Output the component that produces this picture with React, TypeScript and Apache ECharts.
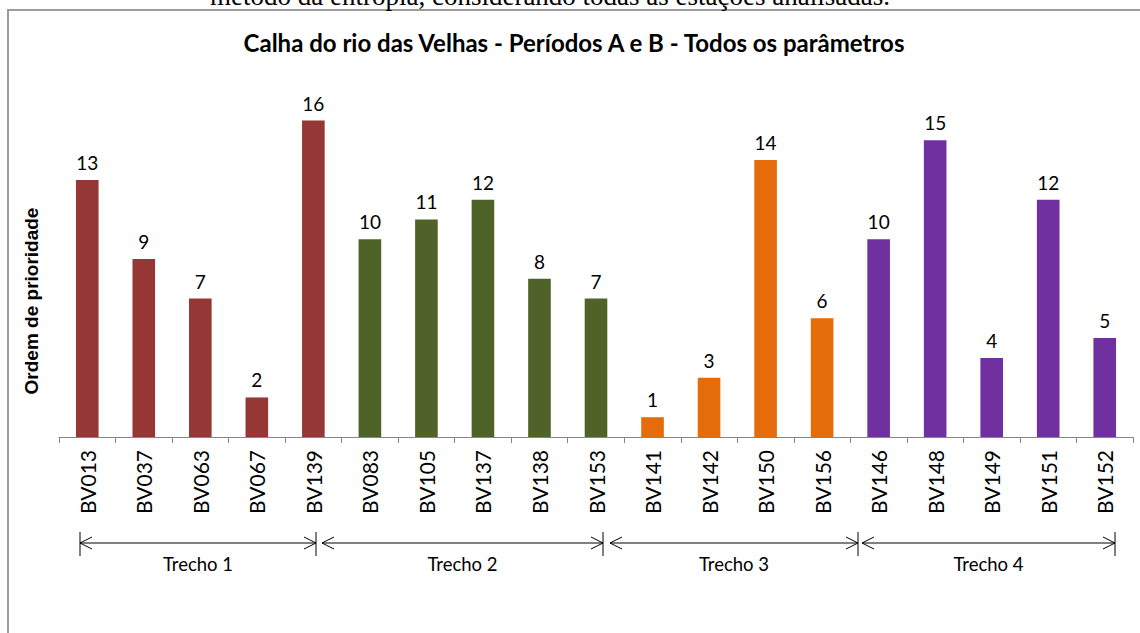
import React, { useEffect, useRef } from "react";
import * as echarts from "echarts";

const categories = [
  "BV013", "BV037", "BV063", "BV067", "BV139",
  "BV083", "BV105", "BV137", "BV138", "BV153",
  "BV141", "BV142", "BV150", "BV156",
  "BV146", "BV148", "BV149", "BV151", "BV152",
];
const values = [13, 9, 7, 2, 16, 10, 11, 12, 8, 7, 1, 3, 14, 6, 10, 15, 4, 12, 5];
const groupNames = ["Trecho 1", "Trecho 2", "Trecho 3", "Trecho 4"];
const groupSizes = [5, 5, 4, 5];
const groupColors = ["#953735", "#4F6228", "#E46C0A", "#7030A0"];

const titleText = "Calha do rio das Velhas - Períodos A e B - Todos os parâmetros";
const yName = "Ordem de prioridade";
const pageText = "método da entropia, considerando todas as estações analisadas.";

// annotation layout (bracket spans below the axis)
const spans: [number, number][] = [[80, 316], [322, 603], [610, 858], [862, 1115]];
const dividers = [80, 316, 603, 858, 1115];

const FONT = "Lato";

export default function App() {
  const ref = useRef<HTMLDivElement>(null);
  useEffect(() => {
    if (!ref.current) return;
    const chart = echarts.init(ref.current, undefined, { renderer: "svg" });
    const barColors: string[] = [];
    groupSizes.forEach((n, g) => {
      for (let i = 0; i < n; i++) barColors.push(groupColors[g]);
    });
    const arrowY = 543;
    const graphic: any[] = [
      {
        type: "rect",
        shape: { x: 8, y: 10, width: 1150, height: 650 },
        style: { fill: "none", stroke: "#9c9c9c", lineWidth: 2 },
        silent: true,
      },
      {
        type: "text",
        x: 550,
        y: 9,
        style: {
          text: pageText,
          font: "27px 'Liberation Serif'",
          fill: "#000",
          align: "center",
          verticalAlign: "bottom",
        },
      },
      {
        type: "text",
        x: 574,
        y: 42,
        style: {
          text: titleText,
          font: `bold 24px ${FONT}`,
          fill: "#000",
          align: "center",
          verticalAlign: "middle",
        },
      },
      {
        type: "text",
        x: 31,
        y: 301,
        rotation: Math.PI / 2,
        style: {
          text: yName,
          font: "bold 19px 'Liberation Sans'",
          fill: "#000",
          align: "center",
          verticalAlign: "middle",
        },
      },
    ];
    dividers.forEach((x) => {
      graphic.push({
        type: "line",
        shape: { x1: x, y1: arrowY - 11, x2: x, y2: arrowY + 13 },
        style: { stroke: "#000", lineWidth: 1 },
      });
    });
    spans.forEach(([a, b], i) => {
      graphic.push({
        type: "line",
        shape: { x1: a, y1: arrowY, x2: b, y2: arrowY },
        style: { stroke: "#000", lineWidth: 1 },
      });
      graphic.push({
        type: "polyline",
        shape: { points: [[a + 12, arrowY - 6], [a, arrowY], [a + 12, arrowY + 6]] },
        style: { stroke: "#000", lineWidth: 1, fill: "none" },
      });
      graphic.push({
        type: "polyline",
        shape: { points: [[b - 12, arrowY - 6], [b, arrowY], [b - 12, arrowY + 6]] },
        style: { stroke: "#000", lineWidth: 1, fill: "none" },
      });
      graphic.push({
        type: "text",
        x: (a + b) / 2,
        y: 564,
        style: {
          text: groupNames[i],
          font: `18.5px ${FONT}`,
          fill: "#000",
          align: "center",
          verticalAlign: "middle",
        },
      });
    });

    chart.setOption({
      animation: false,
      backgroundColor: "#fff",
      grid: { left: 59, right: 7, top: 81, bottom: 196 },
      xAxis: {
        type: "category",
        data: categories,
        axisLine: { lineStyle: { color: "#868686", width: 1 } },
        axisTick: { show: true, length: 6, interval: 0, lineStyle: { color: "#868686" } },
        axisLabel: {
          interval: 0,
          rotate: 90,
          margin: 13,
          color: "#000",
          fontFamily: FONT,
          fontSize: 21,
        },
      },
      yAxis: {
        type: "value",
        min: 0,
        max: 18,
        show: false,
        splitLine: { show: false },
      },
      series: [
        {
          type: "bar",
          barWidth: "40%",
          data: values.map((v, i) => ({ value: v, itemStyle: { color: barColors[i] } })),
          label: {
            show: true,
            position: "top",
            distance: 8,
            color: "#000",
            fontFamily: FONT,
            fontSize: 19,
          },
        },
      ],
      graphic,
    });
    return () => chart.dispose();
  }, []);
  return (
    <div
      ref={ref}
      style={{ position: "absolute", left: 0, top: 0, width: 1140, height: 633, background: "#fff" }}
    />
  );
}
